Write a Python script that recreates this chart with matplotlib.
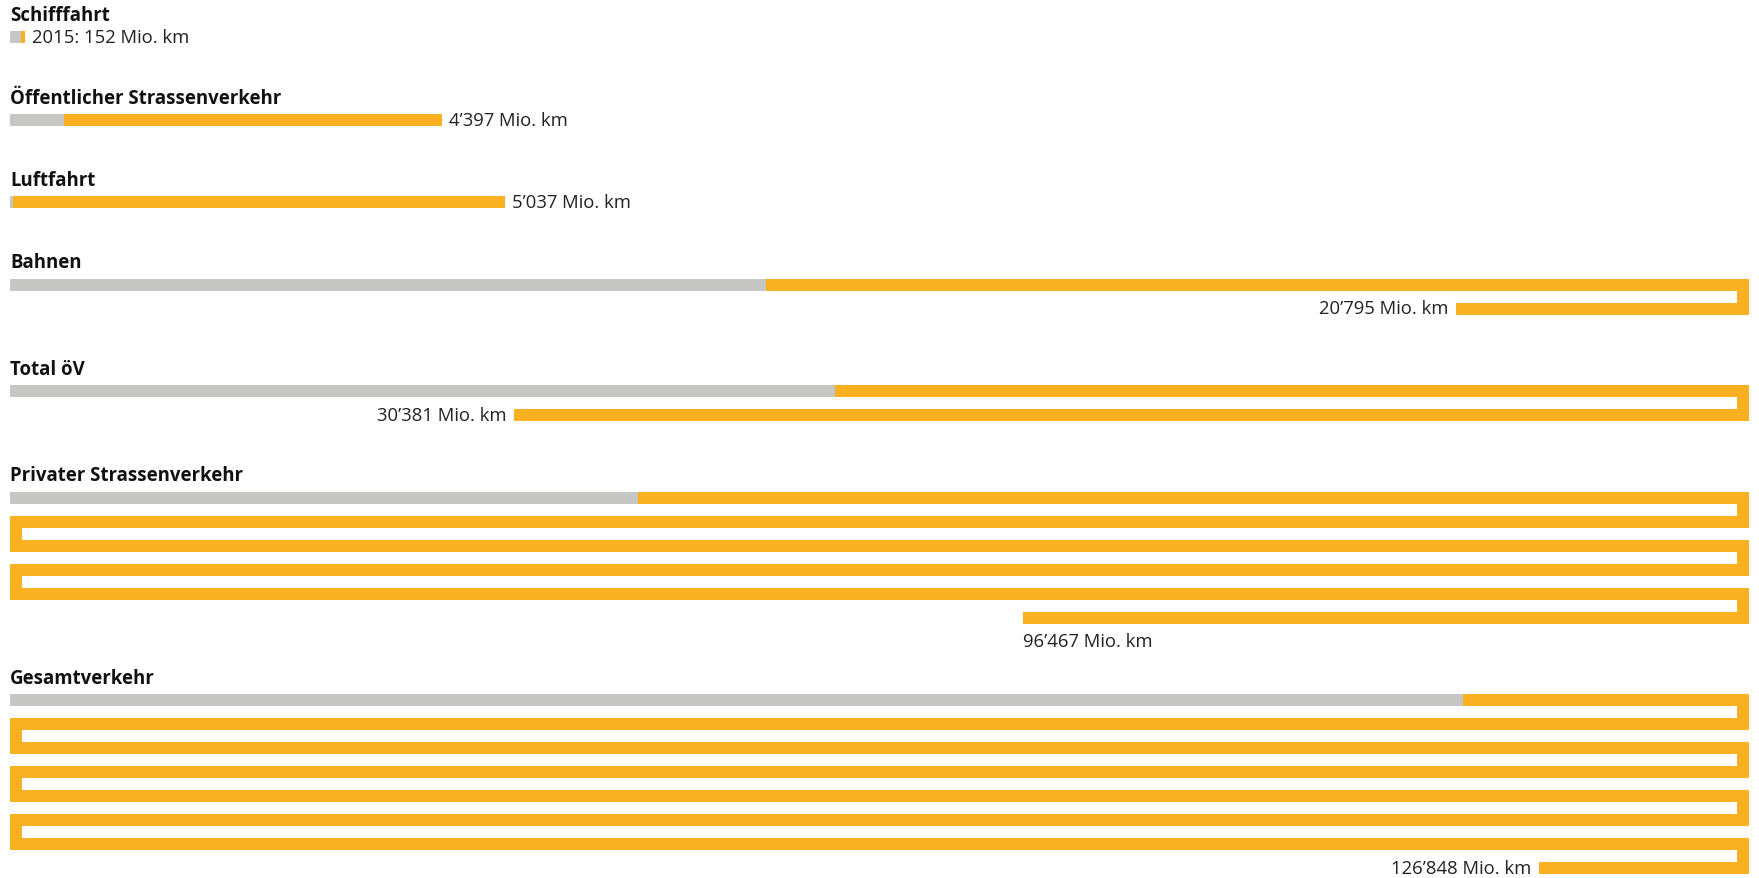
import matplotlib.pyplot as plt
from matplotlib.patches import Rectangle

# Personenkilometer 2015, Mio. km
categories = ["Schifffahrt", "Öffentlicher Strassenverkehr", "Luftfahrt", "Bahnen",
              "Total öV", "Privater Strassenverkehr", "Gesamtverkehr"]
totals = [152, 4397, 5037, 20795, 30381, 96467, 126848]
grey_part = [112, 548, 30, 7690, 8390, 6390, 14780]
labels = ["2015: 152 Mio. km", "4’397 Mio. km", "5’037 Mio. km", "20’795 Mio. km",
          "30’381 Mio. km", "96’467 Mio. km", "126’848 Mio. km"]
label_below = [False, False, False, False, False, True, False]

ORANGE = "#F9B122"
GREY = "#C6C7C5"
FONT = ["Open Sans", "DejaVu Sans"]

W, H = 1759, 879
X0, X1 = 10, 1749
ROW = X1 - X0            # px width of one row
THICK = 12               # bar thickness
PITCH = 24               # row to row
SCALE = 0.09828          # px per Mio. km
SECTION_GAP = 82.5

fig = plt.figure(figsize=(W / 100, H / 100), dpi=100)
ax = fig.add_axes([0, 0, 1, 1])
ax.set_xlim(0, W)
ax.set_ylim(H, 0)
ax.axis("off")


def segments(start, end):
    # cut path interval [start, end] (px) into rectangles of the serpentine
    out = []
    step = ROW + THICK
    k = 0
    while k * step < end:
        r0 = k * step
        # row part
        a, b = max(start, r0), min(end, r0 + ROW)
        if a < b:
            if k % 2 == 0:
                out.append((X0 + (a - r0), k * PITCH, b - a, THICK))
            else:
                out.append((X1 - (b - r0), k * PITCH, b - a, THICK))
        # connector part
        c0 = r0 + ROW
        a, b = max(start, c0), min(end, c0 + THICK)
        if a < b:
            cx = X1 - THICK if k % 2 == 0 else X0
            out.append((cx, k * PITCH + THICK + (a - c0), THICK, b - a))
        k += 1
    return out


top = 32
for name, tot, g, lab, below in zip(categories, totals, grey_part, labels, label_below):
    L = tot * SCALE
    gl = g * SCALE
    ax.text(X0, top - 6, name, fontsize=13.4, fontweight="bold", family=FONT,
            color="#111111", va="bottom", ha="left")
    for (x, y, w, h) in segments(0, gl):
        ax.add_patch(Rectangle((x, top + y), w, h, facecolor=GREY, edgecolor="none"))
    for (x, y, w, h) in segments(gl, L):
        ax.add_patch(Rectangle((x, top + y), w, h, facecolor=ORANGE, edgecolor="none"))

    nrows = int(L // (ROW + THICK)) + 1
    last = nrows - 1
    rem = L - last * (ROW + THICK)
    ycen = top + last * PITCH + THICK / 2
    if last % 2 == 0:
        xend = X0 + rem
    else:
        xend = X1 - rem
    if below:
        ax.text(xend, ycen + PITCH, lab, fontsize=13.3, family=FONT, color="#222222",
                va="center", ha="left")
    elif last % 2 == 0:
        ax.text(xend + 7, ycen, lab, fontsize=13.3, family=FONT, color="#222222",
                va="center", ha="left")
    else:
        ax.text(xend - 8, ycen, lab, fontsize=13.3, family=FONT, color="#222222",
                va="center", ha="right")
    top = top + last * PITCH + SECTION_GAP

fig.savefig("out.png", dpi=100)
